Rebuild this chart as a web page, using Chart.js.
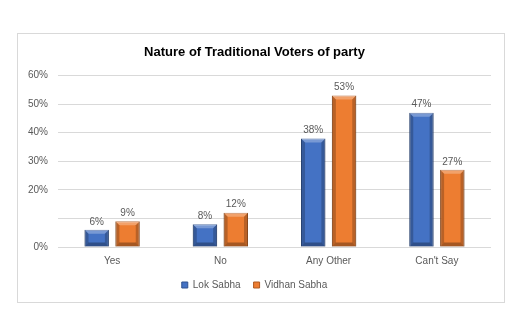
<!DOCTYPE html>
<html>
<head>
<meta charset="utf-8">
<script src="https://cdn.jsdelivr.net/npm/chart.js@4/dist/chart.umd.min.js"></script>
<style>
  html, body { margin: 0; padding: 0; background: #fff; }
  #frame {
    position: absolute; left: 17px; top: 33px;
    width: 486px; height: 268px;
    border: 1px solid #d9d9d9; background: #fff;
  }
  #result { display: block; }
</style>
</head>
<body>
<div id="frame"><canvas id="result" width="486" height="268"></canvas></div>
<script>
const categories = ['Yes', 'No', 'Any Other', "Can't Say"];
const lokSabha = [6, 8, 38, 47];
const vidhanSabha = [9, 12, 53, 27];
const yTicks = [0, 10, 20, 30, 40, 50, 60];

const colors = {
    blue: '#4472c4',
    blueEdge: '#2f528f',
    orange: '#ed7d31',
    orangeEdge: '#ae5a21',
    text: '#595959',
    grid: '#d9d9d9'
};

// value labels above each bar plus a light bevel on the bars
const barDecor = {
    id: 'barDecor',
    afterDatasetsDraw(chart) {
        let ctx = chart.ctx;
        chart.data.datasets.forEach((ds, di) => {
            let meta = chart.getDatasetMeta(di);
            meta.data.forEach((bar, i) => {
                let left = bar.x - bar.width / 2;
                let right = bar.x + bar.width / 2;
                let top = bar.y;
                let bottom = bar.base;
                let b = 4;
                ctx.save();
                // top highlight
                ctx.fillStyle = 'rgba(255,255,255,0.28)';
                ctx.beginPath();
                ctx.moveTo(left, top);
                ctx.lineTo(right, top);
                ctx.lineTo(right - b, top + b);
                ctx.lineTo(left + b, top + b);
                ctx.closePath();
                ctx.fill();
                // side shading
                ctx.fillStyle = 'rgba(0,0,0,0.22)';
                ctx.beginPath();
                ctx.moveTo(left, top);
                ctx.lineTo(left + b, top + b);
                ctx.lineTo(left + b, bottom - b);
                ctx.lineTo(left, bottom);
                ctx.closePath();
                ctx.fill();
                ctx.beginPath();
                ctx.moveTo(right, top);
                ctx.lineTo(right - b, top + b);
                ctx.lineTo(right - b, bottom - b);
                ctx.lineTo(right, bottom);
                ctx.closePath();
                ctx.fill();
                // bottom shading
                ctx.fillStyle = 'rgba(0,0,0,0.3)';
                ctx.beginPath();
                ctx.moveTo(left, bottom);
                ctx.lineTo(left + b, bottom - b);
                ctx.lineTo(right - b, bottom - b);
                ctx.lineTo(right, bottom);
                ctx.closePath();
                ctx.fill();
                // value label
                ctx.fillStyle = colors.text;
                ctx.font = '10px "Liberation Sans", Arial, sans-serif';
                ctx.textAlign = 'center';
                ctx.textBaseline = 'bottom';
                ctx.fillText(ds.data[i] + '%', bar.x, top - 3);
                ctx.restore();
            });
        });
    }
};

let ctx = document.getElementById('result').getContext('2d');
let myChart = new Chart(ctx, {
    type: 'bar',
    data: {
        labels: categories,
        datasets: [
            {
                label: 'Lok Sabha',
                data: lokSabha,
                backgroundColor: colors.blue,
                borderColor: colors.blueEdge,
                borderWidth: 1,
                categoryPercentage: 0.57,
                barPercentage: 0.79
            },
            {
                label: 'Vidhan Sabha',
                data: vidhanSabha,
                backgroundColor: colors.orange,
                borderColor: colors.orangeEdge,
                borderWidth: 1,
                categoryPercentage: 0.57,
                barPercentage: 0.79
            }
        ]
    },
    options: {
        responsive: false,
        animation: false,
        layout: { padding: { left: 0, right: 13, top: 0, bottom: 2 } },
        plugins: {
            title: {
                display: true,
                text: 'Nature of Traditional Voters of party',
                color: '#000',
                font: { family: '"Liberation Sans", Arial, sans-serif', size: 13, weight: 'bold' },
                padding: { top: 11, bottom: 15 }
            },
            legend: {
                position: 'bottom',
                labels: {
                    color: colors.text,
                    boxWidth: 6,
                    boxHeight: 6,
                    padding: 13,
                    font: { family: '"Liberation Sans", Arial, sans-serif', size: 10 }
                }
            },
            tooltip: { enabled: false }
        },
        scales: {
            x: {
                grid: { display: false },
                border: { display: false },
                ticks: {
                    color: colors.text,
                    padding: 0,
                    font: { family: '"Liberation Sans", Arial, sans-serif', size: 10 }
                }
            },
            y: {
                min: 0,
                max: 60,
                afterBuildTicks: axis => { axis.ticks = yTicks.map(v => ({ value: v })); },
                grid: { color: colors.grid, drawTicks: false },
                border: { display: false },
                ticks: {
                    color: colors.text,
                    padding: 10,
                    font: { family: '"Liberation Sans", Arial, sans-serif', size: 10 },
                    callback: value => value === 10 ? '' : value + '%'
                }
            }
        }
    },
    plugins: [barDecor]
});
</script>
</body>
</html>
